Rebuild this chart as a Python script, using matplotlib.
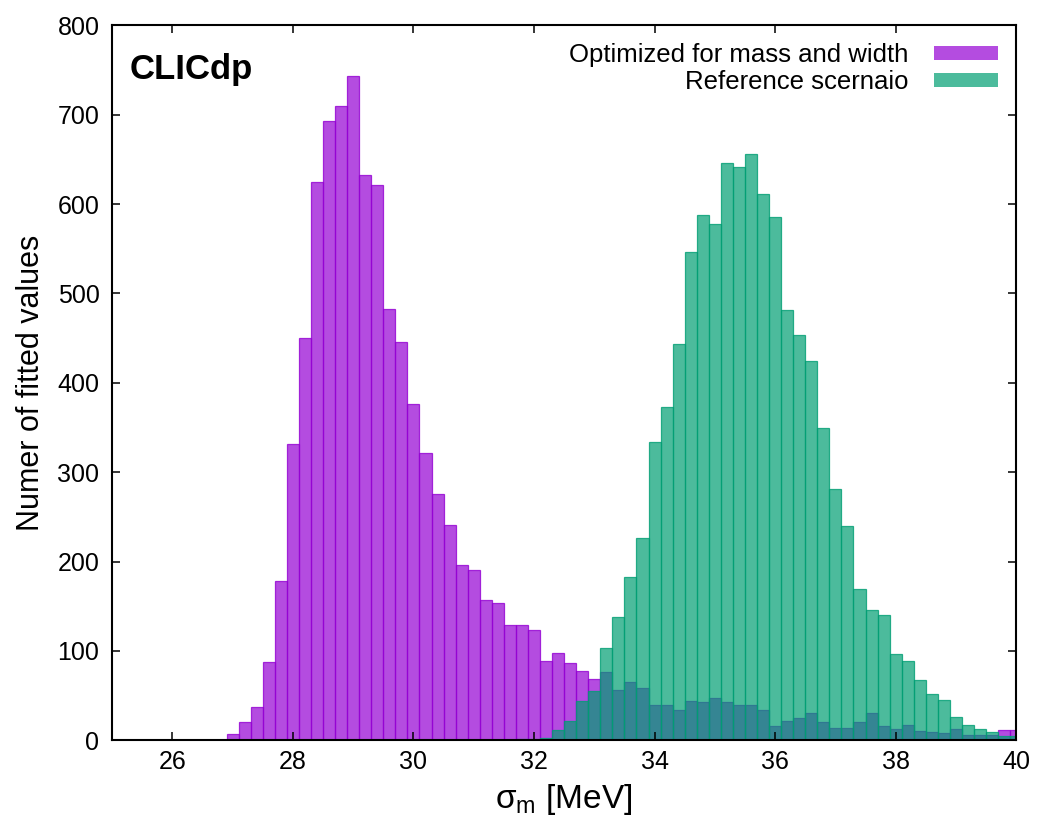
import numpy as np
import matplotlib.pyplot as plt
from matplotlib.colors import to_rgb
from matplotlib.patches import Patch

# histogram counts, bins of 0.2 MeV
bin_width = 0.2
opt_first = 27.0   # centre of first bin of the optimized scenario
opt_counts = [7, 20, 37, 88, 178, 332, 450, 625, 693, 710,
              743, 633, 621, 483, 446, 376, 322, 276, 241, 196,
              191, 157, 154, 129, 129, 123, 89, 98, 87, 77,
              69, 76, 56, 65, 59, 40, 40, 34, 44, 43,
              47, 43, 40, 39, 34, 16, 22, 25, 30, 20,
              14, 14, 20, 30, 16, 13, 17, 10, 9, 8,
              13, 6, 6, 6, 11, 11]
ref_first = 31.8
ref_counts = [2, 2, 3, 12, 22, 44, 55, 103, 138, 183,
              226, 334, 373, 444, 546, 588, 578, 646, 642, 656,
              611, 585, 481, 453, 424, 349, 281, 240, 169, 146,
              140, 96, 89, 68, 52, 45, 26, 17, 13, 9,
              5, 5]
labels = ["Optimized for mass and width", "Reference scernaio"]

opt_x = opt_first + bin_width * np.arange(len(opt_counts))
ref_x = ref_first + bin_width * np.arange(len(ref_counts))

purple = "#9400d3"
green = "#009e73"
alpha = 0.7

plt.rcParams['font.family'] = ['Liberation Sans', 'DejaVu Sans']
fig = plt.figure(figsize=(10.37, 8.18), dpi=100)
ax = fig.add_axes([0.108, 0.095, 0.872, 0.874])

ax.bar(opt_x, opt_counts, width=bin_width, facecolor=(*to_rgb(purple), alpha),
       edgecolor=(*to_rgb(purple), 0.8), linewidth=0.9)
ax.bar(ref_x, ref_counts, width=bin_width, facecolor=(*to_rgb(green), alpha),
       edgecolor=(*to_rgb(green), 0.8), linewidth=0.9)

ax.set_xlim(25, 40)
ax.set_ylim(0, 800)
ax.set_xticks(np.arange(26, 41, 2))
ax.set_yticks(np.arange(0, 801, 100))
ax.tick_params(axis='both', direction='in', top=True, right=True, length=6, width=1.1,
               labelsize=18, colors='black', pad=7)
ax.tick_params(axis='y', pad=9)
for s in ax.spines.values():
    s.set_linewidth(1.5)

ax.set_xlabel(r"$\mathregular{\sigma_m}$ [MeV]", fontsize=24, labelpad=6)
ax.set_ylabel("Numer of fitted values", fontsize=22, labelpad=8)

ax.text(0.02, 0.962, "CLICdp", transform=ax.transAxes, fontsize=25, fontweight='bold',
        va='top', ha='left')

handles = [Patch(facecolor=(*to_rgb(purple), alpha), edgecolor='none'),
           Patch(facecolor=(*to_rgb(green), alpha), edgecolor='none')]
ax.legend(handles, labels, loc='upper right', frameon=False, markerfirst=False,
          fontsize=18.5, handlelength=2.5, handleheight=0.45, labelspacing=0.1,
          borderaxespad=0.5, handletextpad=1.0, borderpad=0.2)

plt.savefig("out.png", dpi=100)
